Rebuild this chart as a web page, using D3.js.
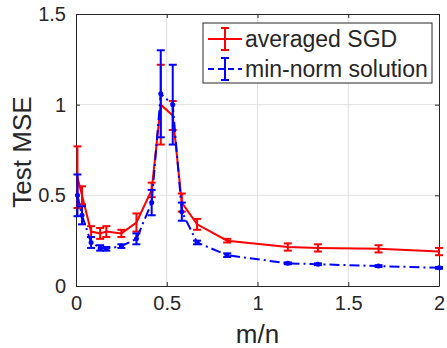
<!DOCTYPE html>
<html>
<head>
<meta charset="utf-8">
<script src="https://cdn.jsdelivr.net/npm/d3@7"></script>
<style>
  body { margin: 0; background: #fff; }
  text { font-family: "Liberation Sans", Arial, Helvetica, sans-serif; fill: #262626; }
</style>
</head>
<body>
<div id="chart"></div>
<script>
// m/n values where test error was measured
const ratios = [0.008, 0.033, 0.083, 0.133, 0.167, 0.25, 0.333, 0.417, 0.467, 0.533, 0.583, 0.667, 0.833, 1.167, 1.333, 1.667, 2.0];

// averaged SGD (mean and error half-width)
const sgdMean = [0.60, 0.50, 0.30, 0.29, 0.30, 0.29, 0.35, 0.53, 1.00, 0.94, 0.46, 0.34, 0.25, 0.215, 0.21, 0.205, 0.19];
const sgdErr  = [0.17, 0.05, 0.03, 0.03, 0.03, 0.02, 0.05, 0.04, 0.22, 0.08, 0.05, 0.03, 0.01, 0.02, 0.02, 0.02, 0.02];

// min-norm solution
const minNormMean = [0.50, 0.39, 0.24, 0.21, 0.205, 0.22, 0.26, 0.46, 1.06, 1.00, 0.41, 0.24, 0.17, 0.125, 0.12, 0.11, 0.10];
const minNormErr  = [0.115, 0.05, 0.03, 0.015, 0.01, 0.01, 0.03, 0.07, 0.24, 0.22, 0.05, 0.01, 0.01, 0.005, 0.005, 0.005, 0.005];

const xTicks = [0, 0.5, 1, 1.5, 2];
const yTicks = [0, 0.5, 1, 1.5];
const seriesNames = ['averaged SGD', 'min-norm solution'];

const W = 447, H = 348;
const margin = { top: 14, right: 8, bottom: 62, left: 76 };
const width = W - margin.left - margin.right;
const height = H - margin.top - margin.bottom;
const axisColor = '#262626';

const svg = d3.select('#chart')
  .append('svg')
  .attr('width', W)
  .attr('height', H)
  .append('g')
  .attr('transform', `translate(${margin.left},${margin.top})`);

const xScale = d3.scaleLinear().domain([0, 2]).range([0, width]);
const yScale = d3.scaleLinear().domain([0, 1.5]).range([height, 0]);

// grid
svg.append('g')
  .selectAll('line')
  .data(xTicks.slice(1, -1))
  .enter().append('line')
  .attr('x1', d => xScale(d)).attr('x2', d => xScale(d))
  .attr('y1', 0).attr('y2', height)
  .attr('stroke', '#dfdfdf').attr('stroke-width', 1);

svg.append('g')
  .selectAll('line')
  .data(yTicks.slice(1, -1))
  .enter().append('line')
  .attr('x1', 0).attr('x2', width)
  .attr('y1', d => yScale(d)).attr('y2', d => yScale(d))
  .attr('stroke', '#dfdfdf').attr('stroke-width', 1);

// axes, ticks pointing inwards like matlab
const fmt = d => d3.format('')(d);
const xAxis = svg.append('g')
  .attr('transform', `translate(0,${height})`)
  .call(d3.axisBottom(xScale).tickValues(xTicks).tickSizeInner(-4).tickSizeOuter(0).tickPadding(10).tickFormat(fmt));
const xTop = svg.append('g')
  .call(d3.axisTop(xScale).tickValues(xTicks).tickSizeInner(-4).tickSizeOuter(0).tickFormat(''));
const yAxis = svg.append('g')
  .call(d3.axisLeft(yScale).tickValues(yTicks).tickSizeInner(-4).tickSizeOuter(0).tickPadding(10).tickFormat(fmt));
const yRight = svg.append('g')
  .attr('transform', `translate(${width},0)`)
  .call(d3.axisRight(yScale).tickValues(yTicks).tickSizeInner(-4).tickSizeOuter(0).tickFormat(''));

[xAxis, xTop, yAxis, yRight].forEach(a => {
  a.select('.domain').attr('stroke', axisColor).attr('stroke-width', 1);
  a.selectAll('.tick line').attr('stroke', axisColor);
  a.selectAll('.tick text')
    .style('font-size', '20px')
    .attr('fill', axisColor);
});
xAxis.selectAll('.tick text').attr('dy', '0.71em');

// series drawing
function drawSeries(mean, err, color, dash, dots) {
  const pts = ratios.map((r, i) => ({ x: r, y: mean[i], e: err[i] }));
  const g = svg.append('g');

  g.append('path')
    .datum(pts)
    .attr('fill', 'none')
    .attr('stroke', color)
    .attr('stroke-width', 2)
    .attr('stroke-dasharray', dash)
    .attr('d', d3.line().x(d => xScale(d.x)).y(d => yScale(d.y)));

  const bars = g.selectAll('.eb')
    .data(pts)
    .enter().append('g')
    .attr('class', 'eb');

  bars.append('line')
    .attr('x1', d => xScale(d.x)).attr('x2', d => xScale(d.x))
    .attr('y1', d => yScale(d.y - d.e)).attr('y2', d => yScale(d.y + d.e))
    .attr('stroke', color).attr('stroke-width', 2);

  [-1, 1].forEach(s => {
    bars.append('line')
      .attr('x1', d => xScale(d.x) - 4).attr('x2', d => xScale(d.x) + 4)
      .attr('y1', d => yScale(d.y + s * d.e)).attr('y2', d => yScale(d.y + s * d.e))
      .attr('stroke', color).attr('stroke-width', 2);
  });

  if (dots) {
    bars.append('circle')
      .attr('cx', d => xScale(d.x))
      .attr('cy', d => yScale(d.y))
      .attr('r', 2.5)
      .attr('fill', color);
  }
}

drawSeries(sgdMean, sgdErr, '#ff0000', null, false);
drawSeries(minNormMean, minNormErr, '#0000ff', '10,4,2,4', true);

// axis titles
svg.append('text')
  .attr('x', width / 2)
  .attr('y', height + 57)
  .attr('text-anchor', 'middle')
  .style('font-size', '26px')
  .text('m/n');

svg.append('text')
  .attr('transform', 'rotate(-90)')
  .attr('x', -(152 - margin.top))
  .attr('y', -margin.left + 31)
  .attr('text-anchor', 'middle')
  .style('font-size', '26px')
  .text('Test MSE');

// legend
const legend = d3.select('svg').append('g')
  .attr('transform', 'translate(203,23)');

legend.append('rect')
  .attr('width', 229).attr('height', 60)
  .attr('fill', '#fff')
  .attr('stroke', axisColor).attr('stroke-width', 1);

const legendRows = [
  { name: seriesNames[0], color: '#ff0000', dash: null, y: 16 },
  { name: seriesNames[1], color: '#0000ff', dash: '6,4', y: 46 }
];

legendRows.forEach(r => {
  legend.append('line')
    .attr('x1', 5).attr('x2', 39)
    .attr('y1', r.y).attr('y2', r.y)
    .attr('stroke', r.color).attr('stroke-width', 2)
    .attr('stroke-dasharray', r.dash);
  legend.append('line')
    .attr('x1', 22).attr('x2', 22)
    .attr('y1', r.y - 11).attr('y2', r.y + 11)
    .attr('stroke', r.color).attr('stroke-width', 2);
  [-11, 11].forEach(o => {
    legend.append('line')
      .attr('x1', 18).attr('x2', 26)
      .attr('y1', r.y + o).attr('y2', r.y + o)
      .attr('stroke', r.color).attr('stroke-width', 2);
  });
  legend.append('text')
    .attr('x', 42)
    .attr('y', r.y + 8)
    .style('font-size', '23px')
    .text(r.name);
});
</script>
</body>
</html>
